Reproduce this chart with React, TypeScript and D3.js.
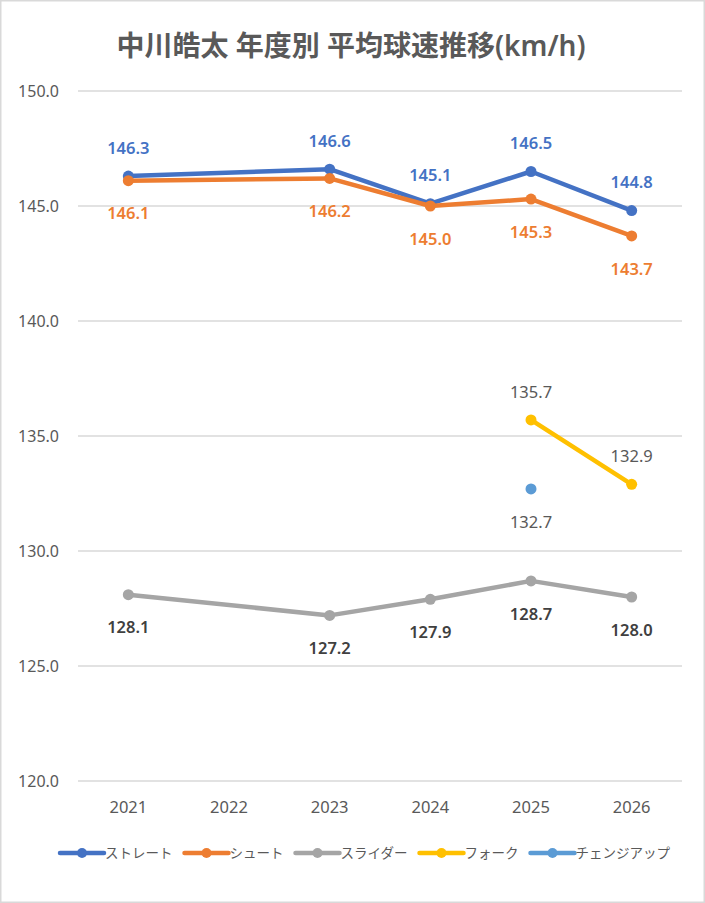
import React, { useEffect, useRef } from "react";
import * as d3 from "d3";

const years = ["2021", "2022", "2023", "2024", "2025", "2026"];
const straight = [146.3, null, 146.6, 145.1, 146.5, 144.8];
const shoot = [146.1, null, 146.2, 145.0, 145.3, 143.7];
const slider = [128.1, null, 127.2, 127.9, 128.7, 128.0];
const fork = [null, null, null, null, 135.7, 132.9];
const changeup = [null, null, null, null, 132.7, null];
const seriesNames = ["ストレート", "シュート", "スライダー", "フォーク", "チェンジアップ"];
const yTicks = [120, 125, 130, 135, 140, 145, 150];
const title = "中川皓太 年度別 平均球速推移(km/h)";

const W = 705;
const H = 903;
const FONT = "'Noto Sans', 'Noto Sans CJK JP', sans-serif";

export default function App() {
  const ref = useRef<SVGSVGElement>(null);
  useEffect(() => {
    document.body.style.margin = "0";
    const svg = d3.select(ref.current);
    svg.selectAll("*").remove();

    svg.append("rect").attr("x", 0.75).attr("y", 0.75).attr("width", W - 1.5).attr("height", H - 1.5)
      .attr("fill", "#fff").attr("stroke", "#d9d9d9").attr("stroke-width", 1.5);

    const x = d3.scaleBand().domain(years).range([78, 682]);
    const y = d3.scaleLinear().domain([120, 150]).range([781, 91]);
    const cx = (i: number) => (x(years[i]) as number) + x.bandwidth() / 2;

    svg.append("text").attr("x", 351).attr("y", 56).attr("text-anchor", "middle")
      .attr("font-family", FONT).attr("font-size", 28).attr("font-weight", 600)
      .attr("fill", "#595959").text(title);

    const g = svg.append("g");
    yTicks.forEach((t) => {
      g.append("line").attr("x1", 78).attr("x2", 682).attr("y1", y(t)).attr("y2", y(t))
        .attr("stroke", "#d9d9d9").attr("stroke-width", 1.5);
      g.append("text").attr("x", 59).attr("y", y(t)).attr("dy", "0.35em").attr("text-anchor", "end")
        .attr("font-family", FONT).attr("font-size", 16).attr("fill", "#595959").text(t.toFixed(1));
    });
    years.forEach((yr, i) => {
      g.append("text").attr("x", cx(i)).attr("y", 813).attr("text-anchor", "middle")
        .attr("font-family", FONT).attr("font-size", 16.5).attr("fill", "#595959").text(yr);
    });

    type S = { name: string; data: (number | null)[]; color: string; labelColor: string; weight: number; pos: number[]; line: boolean };
    const series: S[] = [
      { name: seriesNames[0], data: straight, color: "#4472C4", labelColor: "#4472C4", weight: 600, pos: [-1, -1, -1, -1, -1, -1], line: true },
      { name: seriesNames[1], data: shoot, color: "#ED7D31", labelColor: "#ED7D31", weight: 600, pos: [1, 1, 1, 1, 1, 1], line: true },
      { name: seriesNames[2], data: slider, color: "#A5A5A5", labelColor: "#404040", weight: 600, pos: [1, 1, 1, 1, 1, 1], line: true },
      { name: seriesNames[3], data: fork, color: "#FFC000", labelColor: "#595959", weight: 400, pos: [-1, -1, -1, -1, -1, -1], line: true },
      { name: seriesNames[4], data: changeup, color: "#5B9BD5", labelColor: "#595959", weight: 400, pos: [1, 1, 1, 1, 1, 1], line: false },
    ];

    series.forEach((s) => {
      const pts = s.data.map((v, i) => ({ v, i })).filter((d) => d.v !== null) as { v: number; i: number }[];
      if (s.line && pts.length > 1) {
        const ln = d3.line<{ v: number; i: number }>().x((d) => cx(d.i)).y((d) => y(d.v));
        g.append("path").attr("d", ln(pts)).attr("fill", "none").attr("stroke", s.color)
          .attr("stroke-width", 4.5).attr("stroke-linejoin", "round").attr("stroke-linecap", "round");
      }
      pts.forEach((d) => {
        g.append("circle").attr("cx", cx(d.i)).attr("cy", y(d.v)).attr("r", 5.5).attr("fill", s.color);
      });
    });
    series.forEach((s) => {
      s.data.forEach((v, i) => {
        if (v === null) return;
        const above = s.pos[i] < 0;
        g.append("text").attr("x", cx(i)).attr("y", y(v) + (above ? -28 : 33)).attr("dy", "0.35em")
          .attr("text-anchor", "middle").attr("font-family", FONT).attr("font-size", 16.5)
          .attr("font-weight", s.weight).attr("fill", s.labelColor).text(v.toFixed(1));
      });
    });

    // legend
    const lg = svg.append("g");
    const items: { node: d3.Selection<SVGGElement, unknown, null, undefined>; w: number }[] = [];
    series.forEach((s) => {
      const it = lg.append("g");
      it.append("line").attr("x1", 0).attr("x2", 44).attr("y1", 0).attr("y2", 0)
        .attr("stroke", s.color).attr("stroke-width", 4.5).attr("stroke-linecap", "round");
      it.append("circle").attr("cx", 22).attr("cy", 0).attr("r", 5).attr("fill", s.color);
      const t = it.append("text").attr("x", 45).attr("y", 0).attr("dy", "0.35em")
        .attr("font-family", FONT).attr("font-size", 13.5).attr("fill", "#595959").text(s.name);
      const tw = (t.node() as SVGTextElement).getComputedTextLength();
      items.push({ node: it, w: 45 + tw });
    });
    const gap = 12;
    const total = d3.sum(items, (d) => d.w) + gap * (items.length - 1);
    let xx = 365 - total / 2;
    items.forEach((d) => {
      d.node.attr("transform", `translate(${xx},853)`);
      xx += d.w + gap;
    });
  }, []);
  return <svg ref={ref} width={W} height={H} style={{ display: "block", position: "absolute", left: 0, top: 0 }} />;
}
